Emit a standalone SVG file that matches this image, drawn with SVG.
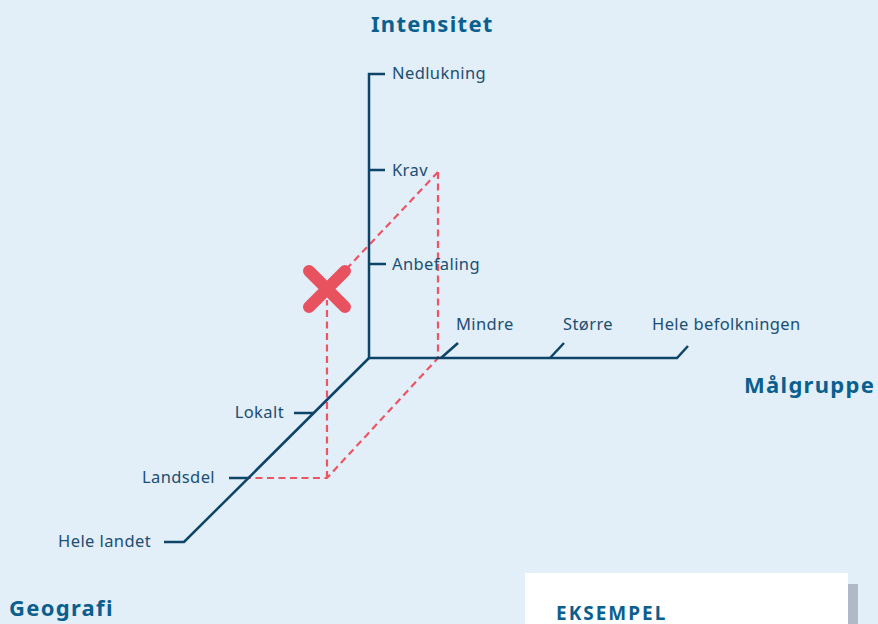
<svg xmlns="http://www.w3.org/2000/svg" width="878" height="624" viewBox="0 0 878 624">
<style>
.ax{stroke:#0d4468;stroke-width:2.5;fill:none;stroke-linecap:butt}
.rd{stroke:#ee5563;stroke-width:2.2;fill:none;stroke-dasharray:7 4.5}
.lb{font-family:"Noto Sans",sans-serif;font-size:16.5px;letter-spacing:0.4px;fill:#1b4f73}
.tt{font-family:"Noto Sans",sans-serif;font-size:22px;font-weight:bold;letter-spacing:1.3px;fill:#0b5f8e}
</style>
<rect width="878" height="624" fill="#e2eef8"/>
<g id="connectors">
<path class="rd" d="M438,172 V358 L327,478 H249"/>
<path class="rd" d="M327,478 V300"/>
<path class="rd" d="M438,172 L336,280"/>
<path class="ax" d="M385,74 H369 V358 H677 L688,346"/>
<path class="ax" d="M369,358 L184,542 H164"/>
<path class="ax" d="M369,170 H385 M369,264 H386"/>
<path class="ax" d="M441,358 L458,343 M550,358 L564,343"/>
<path class="ax" d="M249,478 H229 M314,413 H294"/>
</g>
<g id="x-mark"><path d="M309,271 L345,307 M345,271 L309,307" stroke="#e8525f" stroke-width="12" stroke-linecap="round"/></g>
<g id="intensitet"><text class="tt" x="371" y="32">Intensitet</text></g>
<g id="nedlukning"><text class="lb" x="392" y="79">Nedlukning</text></g>
<g id="krav"><text class="lb" x="392" y="176">Krav</text></g>
<g id="anbefaling"><text class="lb" x="392" y="270">Anbefaling</text></g>
<g id="mindre"><text class="lb" x="456" y="330">Mindre</text></g>
<g id="storre"><text class="lb" x="563" y="330">Større</text></g>
<g id="hele-befolkningen"><text class="lb" x="652" y="330">Hele befolkningen</text></g>
<g id="malgruppe"><text class="tt" x="744" y="393">Målgruppe</text></g>
<g id="lokalt"><text class="lb" x="284" y="418" text-anchor="end">Lokalt</text></g>
<g id="landsdel"><text class="lb" x="215" y="483" text-anchor="end">Landsdel</text></g>
<g id="hele-landet"><text class="lb" x="151" y="547" text-anchor="end">Hele landet</text></g>
<g id="geografi"><text class="tt" x="9" y="616">Geografi</text></g>
<g id="eksempel">
<rect x="848" y="584" width="10" height="40" fill="#b1b9c9"/>
<rect x="525" y="573" width="323" height="51" fill="#ffffff"/>
<text x="556" y="620" font-family="Noto Sans,sans-serif" font-size="19" font-weight="bold" letter-spacing="2" fill="#0b5f8e">EKSEMPEL</text>
</g>
</svg>
